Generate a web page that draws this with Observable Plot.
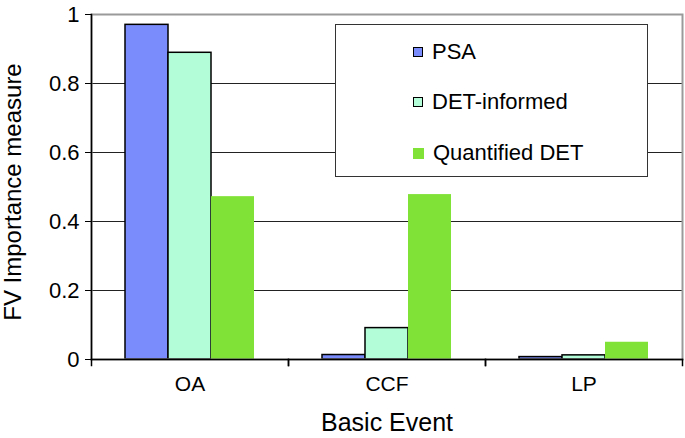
<!DOCTYPE html>
<html>
<head>
<meta charset="utf-8">
<script src="https://cdn.jsdelivr.net/npm/d3@7"></script>
<script src="https://cdn.jsdelivr.net/npm/@observablehq/plot@0.6"></script>
<style>
  html, body { margin: 0; padding: 0; background: #fff; }
  #wrap { position: relative; width: 685px; height: 438px; font-family: "Liberation Sans", Arial, sans-serif; }
  #legend { position: absolute; left: 335px; top: 24px; width: 313px; height: 153px; border: 1.3px solid #333; background: #fff; box-sizing: border-box; }
  .item { position: absolute; left: 77px; display: flex; align-items: center; font-size: 22px; color: #000; }
  .sw { width: 10px; height: 10px; margin-right: 9px; box-sizing: border-box; }
</style>
</head>
<body>
<div id="wrap"></div>
<script>
const categories = ["OA", "CCF", "LP"];
const seriesNames = ["PSA", "DET-informed", "Quantified DET"];
const psa = [0.970, 0.013, 0.007];
const detInformed = [0.889, 0.091, 0.012];
const quantifiedDet = [0.472, 0.478, 0.050];
const yTicks = [0, 0.2, 0.4, 0.6, 0.8, 1];
const gridValues = [0.2, 0.4, 0.6, 0.8];
const seriesColors = ["#7a8cfc", "#b3fdd9", "#80e236"];
const outlined = ["PSA", "DET-informed"];
const xTitle = "Basic Event";
const yTitle = "FV Importance measure";

const valuesBySeries = [psa, detInformed, quantifiedDet];
const data = [];
seriesNames.forEach((s, j) => categories.forEach((c, i) => data.push({cat: c, series: s, value: valuesBySeries[j][i]})));

const W = 685, H = 438, mT = 14, mB = 79, mL = 91, mR = 3;
const innerH = H - mT - mB;

const chart = Plot.plot({
  width: W, height: H,
  marginTop: mT, marginBottom: mB, marginLeft: mL, marginRight: mR,
  style: {fontFamily: "'Liberation Sans', Arial, sans-serif", background: "#fff", color: "#000"},
  fx: {domain: categories, padding: 0, label: null, axis: null},
  x: {domain: seriesNames, paddingInner: 0, paddingOuter: 0.75, axis: null},
  y: {domain: [0, 1], axis: null},
  color: {domain: seriesNames, range: seriesColors},
  marks: [
    Plot.ruleY(gridValues, {stroke: "#222", strokeWidth: 1.2}),
    Plot.barY(data.filter(d => outlined.includes(d.series)), {fx: "cat", x: "series", y: "value", fill: "series", stroke: "#000", strokeWidth: 1.5}),
    Plot.barY(data.filter(d => !outlined.includes(d.series)), {fx: "cat", x: "series", y: "value", fill: "series"}),
    Plot.frame({facet: "super", stroke: "#9a9a9a", strokeWidth: 2}),
    Plot.frame({facet: "super", anchor: "left", stroke: "#000", strokeWidth: 1.5}),
    Plot.frame({facet: "super", anchor: "bottom", stroke: "#000", strokeWidth: 1.5}),
    Plot.frame({anchor: "left", stroke: "#000", strokeWidth: 1.5, insetTop: innerH, insetBottom: -6}),
    Plot.frame({anchor: "right", stroke: "#000", strokeWidth: 1.5, insetTop: innerH, insetBottom: -6}),
    Plot.axisY({ticks: yTicks, tickSize: 6, tickPadding: 6, fontSize: 22, tickFormat: d => String(d), label: null, stroke: "#000"}),
    Plot.axisFx({anchor: "bottom", tickSize: 0, tickPadding: 17, fontSize: 21, label: null}),
    Plot.text([xTitle], {facet: "super", frameAnchor: "bottom", dy: 71, fontSize: 25}),
    Plot.text([yTitle], {facet: "super", frameAnchor: "left", textAnchor: "middle", lineAnchor: "middle", rotate: -90, dx: -78, dy: 5, fontSize: 24})
  ]
});

const wrap = document.getElementById("wrap");
wrap.appendChild(chart);

const legend = document.createElement("div");
legend.id = "legend";
const itemTops = [27, 77, 128];
seriesNames.forEach((s, j) => {
  const item = document.createElement("div");
  item.className = "item";
  item.style.top = (itemTops[j] - 13) + "px";
  const sw = document.createElement("span");
  sw.className = "sw";
  sw.style.background = seriesColors[j];
  sw.style.border = outlined.includes(s) ? "1.5px solid #000" : "none";
  if (!outlined.includes(s)) { sw.style.width = "11px"; sw.style.height = "11px"; }
  const t = document.createElement("span");
  t.textContent = s;
  item.appendChild(sw);
  item.appendChild(t);
  legend.appendChild(item);
});
wrap.appendChild(legend);
</script>
</body>
</html>
